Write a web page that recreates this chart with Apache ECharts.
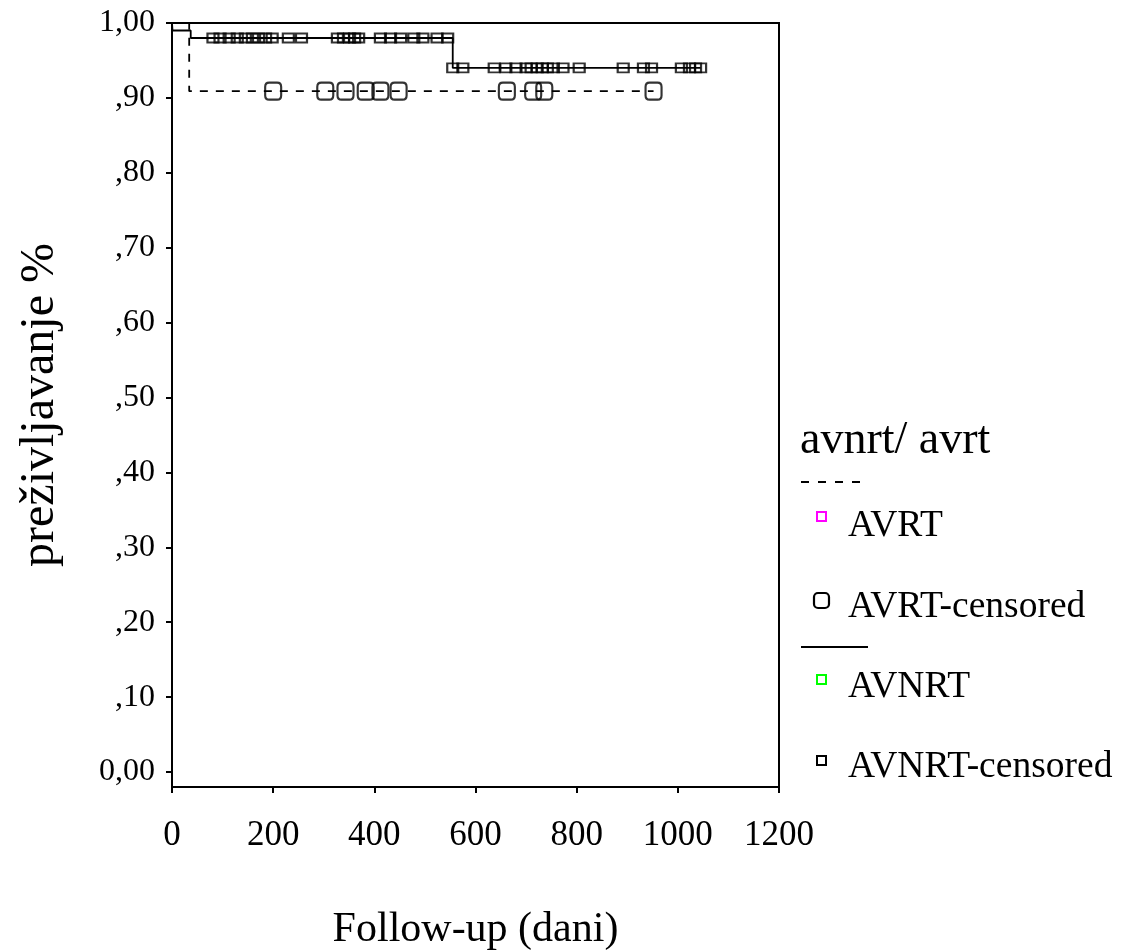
<!DOCTYPE html>
<html>
<head>
<meta charset="utf-8">
<script src="https://cdn.jsdelivr.net/npm/echarts@6/dist/echarts.min.js"></script>
<style>
  html, body { margin: 0; padding: 0; background: #fff; }
  #main { width: 1122px; height: 951px; }
</style>
</head>
<body>
<div id="main"></div>
<script>
// Kaplan-Meier steps (day, survival)
const avrtSteps = [[0, 1.0], [34, 0.909], [952, 0.909]];
const avnrtSteps = [[0, 1.0], [1, 0.99], [37, 0.98], [555, 0.94], [1045, 0.94]];

// censored days
const avrtCensored = [200, 303, 343, 383, 412, 448, 662, 714, 736, 952];
const avrtCensoredSurv = 0.909;
const avnrtCensoredA = [81, 95, 113, 129, 145, 159, 171, 185, 198, 230, 256,
  327, 339, 351, 361, 369, 412, 432, 452, 478, 496, 524, 545];
const avnrtCensoredASurv = 0.98;
const avnrtCensoredB = [555, 575, 637, 660, 680, 700, 710, 722, 732, 742, 754,
  773, 805, 892, 932, 948, 1007, 1023, 1035, 1045];
const avnrtCensoredBSurv = 0.94;

// axis ticks
const xTicks = [0, 200, 400, 600, 800, 1000, 1200];
const yTickValues = [0, 0.1, 0.2, 0.3, 0.4, 0.5, 0.6, 0.7, 0.8, 0.9, 1.0];
const yTickLabels = ['0,00', ',10', ',20', ',30', ',40', ',50', ',60', ',70', ',80', ',90', '1,00'];

const FONT = '"Liberation Serif", "Times New Roman", serif';
const roundSq = 'path://M4,0 H12 Q16,0 16,4 V12 Q16,16 12,16 H4 Q0,16 0,12 V4 Q0,0 4,0 Z';

const chart = echarts.init(document.getElementById('main'), null, { renderer: 'canvas' });

const option = {
  backgroundColor: '#fff',
  animation: false,
  grid: {
    left: 172, right: 343, top: 23, bottom: 164,
    outerBoundsMode: 'none', containLabel: false,
    show: true, borderColor: '#000', borderWidth: 2, backgroundColor: 'transparent'
  },
  xAxis: {
    type: 'value', min: 0, max: 1200, interval: 200,
    name: 'Follow-up (dani)', nameLocation: 'middle', nameGap: 122,
    nameTextStyle: { fontFamily: FONT, fontSize: 42, color: '#000' },
    axisLine: { onZero: false, lineStyle: { color: '#000', width: 2 } },
    axisTick: { show: true, length: 6, lineStyle: { color: '#000', width: 2 } },
    axisLabel: {
      fontFamily: FONT, fontSize: 35, color: '#000', margin: 31,
      formatter: v => xTicks.includes(v) ? String(v) : ''
    },
    splitLine: { show: false }
  },
  yAxis: {
    type: 'value', min: -0.02, max: 1.0,
    name: 'preživljavanje %', nameLocation: 'middle', nameGap: 108,
    nameTextStyle: { fontFamily: FONT, fontSize: 48, color: '#000' },
    axisLine: { onZero: false, lineStyle: { color: '#000', width: 2 } },
    axisTick: { show: true, length: 6, customValues: yTickValues, lineStyle: { color: '#000', width: 2 } },
    axisLabel: {
      fontFamily: FONT, fontSize: 32, color: '#000', margin: 17,
      customValues: yTickValues,
      formatter: v => {
        const i = yTickValues.findIndex(t => Math.abs(t - v) < 1e-6);
        return i >= 0 ? yTickLabels[i] : '';
      }
    },
    splitLine: { show: false }
  },
  series: [
    {
      name: 'AVRT', type: 'line', step: 'end', data: avrtSteps,
      showSymbol: false, silent: true,
      lineStyle: { color: '#000', width: 1.8, type: [8, 8] }
    },
    {
      name: 'AVNRT', type: 'line', step: 'end', data: avnrtSteps,
      showSymbol: false, silent: true,
      lineStyle: { color: '#000', width: 1.8, type: 'solid' }
    },
    {
      name: 'AVRT-censored', type: 'scatter',
      data: avrtCensored.map(d => [d, avrtCensoredSurv]),
      symbol: roundSq, symbolSize: [16, 17],
      itemStyle: { color: 'transparent', borderColor: '#000', borderWidth: 2.2 }
    },
    {
      name: 'AVNRT-censored', type: 'scatter',
      data: avnrtCensoredA.map(d => [d, avnrtCensoredASurv])
        .concat(avnrtCensoredB.map(d => [d, avnrtCensoredBSurv])),
      symbol: 'rect', symbolSize: [11, 9],
      itemStyle: { color: 'transparent', borderColor: '#000', borderWidth: 2 }
    }
  ],
  graphic: [
    { type: 'text', left: 800, top: 418,
      style: { text: 'avnrt/ avrt', font: '46px ' + FONT, fill: '#000' } },
    { type: 'line', shape: { x1: 801, y1: 482, x2: 869, y2: 482 },
      style: { stroke: '#000', lineWidth: 2, lineDash: [8, 9] } },
    { type: 'rect', shape: { x: 817, y: 512, width: 9, height: 9 },
      style: { fill: 'none', stroke: '#ff00ff', lineWidth: 2 } },
    { type: 'text', x: 848, y: 526,
      style: { text: 'AVRT', font: '37.5px ' + FONT, fill: '#000', verticalAlign: 'middle' } },
    { type: 'rect', shape: { x: 814, y: 593, width: 15, height: 15, r: 4 },
      style: { fill: 'none', stroke: '#000', lineWidth: 2.2 } },
    { type: 'text', x: 848, y: 607,
      style: { text: 'AVRT-censored', font: '37.5px ' + FONT, fill: '#000', verticalAlign: 'middle' } },
    { type: 'line', shape: { x1: 801, y1: 647, x2: 868, y2: 647 },
      style: { stroke: '#000', lineWidth: 2 } },
    { type: 'rect', shape: { x: 817, y: 675, width: 9, height: 9 },
      style: { fill: 'none', stroke: '#00ff00', lineWidth: 2 } },
    { type: 'text', x: 848, y: 687,
      style: { text: 'AVNRT', font: '37.5px ' + FONT, fill: '#000', verticalAlign: 'middle' } },
    { type: 'rect', shape: { x: 817, y: 756, width: 9, height: 9 },
      style: { fill: 'none', stroke: '#000', lineWidth: 2 } },
    { type: 'text', x: 848, y: 767,
      style: { text: 'AVNRT-censored', font: '37.5px ' + FONT, fill: '#000', verticalAlign: 'middle' } }
  ]
};

chart.setOption(option);
</script>
</body>
</html>
